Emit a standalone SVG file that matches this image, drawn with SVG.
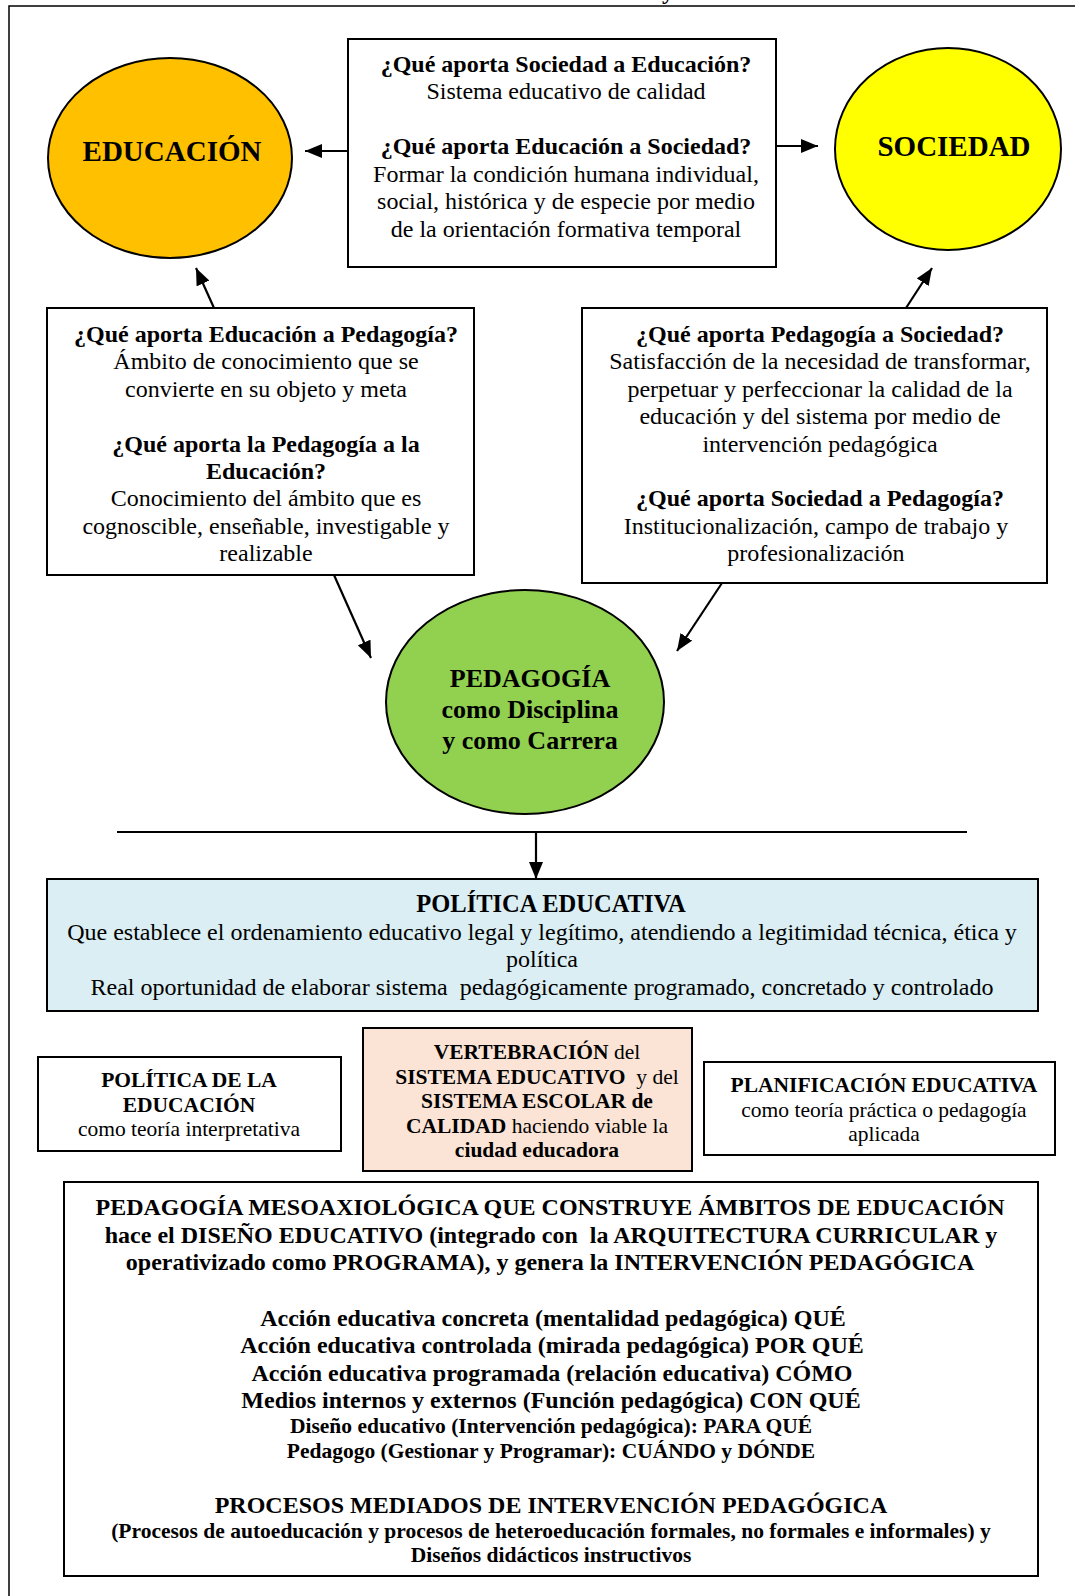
<svg xmlns="http://www.w3.org/2000/svg" width="1075" height="1596" viewBox="0 0 1075 1596">
<defs>
<marker id="ah" markerUnits="userSpaceOnUse" markerWidth="18" markerHeight="14" refX="17" refY="7" orient="auto">
<path d="M0,0 L17,7 L0,14 z" fill="#000"/>
</marker>
<style>
text{font-family:"Liberation Serif","Times New Roman",serif;fill:#000;text-anchor:middle}
.b{font-weight:bold}
.f24{font-size:24px}
.f21{font-size:21.5px}
.box{stroke:#000;stroke-width:2}
.con{stroke:#000;stroke-width:2.2;fill:none}
.tb{font-weight:bold}
</style>
</defs>
<rect width="1075" height="1596" fill="#fff"/>
<path d="M9,1596 V6 H1075" fill="none" stroke="#000" stroke-width="1.5"/>
<text class="b" x="668" y="-1" style="font-size:24px">y</text>

<g id="connectors">
<line class="con" x1="348" y1="151" x2="305" y2="151" marker-end="url(#ah)"/>
<line class="con" x1="777" y1="146" x2="818" y2="146" marker-end="url(#ah)"/>
<line class="con" x1="214" y1="308" x2="196" y2="268" marker-end="url(#ah)"/>
<line class="con" x1="906" y1="308" x2="932" y2="268" marker-end="url(#ah)"/>
<line class="con" x1="334" y1="575" x2="371" y2="658" marker-end="url(#ah)"/>
<line class="con" x1="722" y1="583" x2="677" y2="651" marker-end="url(#ah)"/>
<line class="con" x1="117" y1="832" x2="967" y2="832"/>
<line class="con" x1="536" y1="832" x2="536" y2="879" marker-end="url(#ah)"/>
</g>

<g id="educacion">
<ellipse cx="170" cy="158" rx="122" ry="100" fill="#FFC000" class="box"/>
<text class="b" x="172" y="161" style="font-size:29px">EDUCACIÓN</text>
</g>

<g id="sociedad">
<ellipse cx="948" cy="149" rx="113" ry="101" fill="#FFFF00" class="box"/>
<text class="b" x="954" y="156" style="font-size:29px">SOCIEDAD</text>
</g>

<g id="aportes-soc-edu" class="f24">
<rect x="348" y="39" width="428" height="228" fill="#fff" class="box"/>
<text class="b" x="566" y="72">¿Qué aporta Sociedad a Educación?</text>
<text x="566" y="99">Sistema educativo de calidad</text>
<text class="b" x="566" y="154">¿Qué aporta Educación a Sociedad?</text>
<text x="566" y="181.5">Formar la condición humana individual,</text>
<text x="566" y="209">social, histórica y de especie por medio</text>
<text x="566" y="236.5">de la orientación formativa temporal</text>
</g>

<g id="aportes-edu-ped" class="f24">
<rect x="47" y="308" width="427" height="267" fill="#fff" class="box"/>
<text class="b" x="266" y="342">¿Qué aporta Educación a Pedagogía?</text>
<text x="266" y="369.4">Ámbito de conocimiento que se</text>
<text x="266" y="396.8">convierte en su objeto y meta</text>
<text class="b" x="266" y="451.6">¿Qué aporta la Pedagogía a la</text>
<text class="b" x="266" y="479">Educación?</text>
<text x="266" y="506.4">Conocimiento del ámbito que es</text>
<text x="266" y="533.8">cognoscible, enseñable, investigable y</text>
<text x="266" y="561.2">realizable</text>
</g>

<g id="aportes-ped-soc" class="f24">
<rect x="582" y="308" width="465" height="275" fill="#fff" class="box"/>
<text class="b" x="820" y="342">¿Qué aporta Pedagogía a Sociedad?</text>
<text x="820" y="369.4">Satisfacción de la necesidad de transformar,</text>
<text x="820" y="396.8">perpetuar y perfeccionar la calidad de la</text>
<text x="820" y="424.2">educación y del sistema por medio de</text>
<text x="820" y="451.6">intervención pedagógica</text>
<text class="b" x="820" y="506.4">¿Qué aporta Sociedad a Pedagogía?</text>
<text x="816" y="533.8">Institucionalización, campo de trabajo y</text>
<text x="816" y="561.2">profesionalización</text>
</g>

<g id="pedagogia">
<ellipse cx="525" cy="702" rx="139" ry="112" fill="#92D050" class="box"/>
<text class="b" x="530" y="687" style="font-size:26px">PEDAGOGÍA</text>
<text class="b" x="530" y="718" style="font-size:26px">como Disciplina</text>
<text class="b" x="530" y="749" style="font-size:26px">y como Carrera</text>
</g>

<g id="politica-educativa" class="f24">
<rect x="47" y="879" width="991" height="132" fill="#DAEEF3" class="box"/>
<text class="b" x="551" y="912" style="font-size:24.5px">POLÍTICA EDUCATIVA</text>
<text x="542" y="939.5">Que establece el ordenamiento educativo legal y legítimo, atendiendo a legitimidad técnica, ética y</text>
<text x="542" y="967">política</text>
<text x="542" y="994.5" xml:space="preserve">Real oportunidad de elaborar sistema  pedagógicamente programado, concretado y controlado</text>
</g>

<g id="politica-de-la-educacion" class="f21">
<rect x="38" y="1057" width="303" height="94" fill="#fff" class="box"/>
<text class="b" x="189" y="1087">POLÍTICA DE LA</text>
<text class="b" x="189" y="1111.5">EDUCACIÓN</text>
<text x="189" y="1136">como teoría interpretativa</text>
</g>

<g id="vertebracion" class="f21">
<rect x="363" y="1028" width="329" height="143" fill="#FBE4D5" class="box"/>
<text x="537" y="1059"><tspan class="tb">VERTEBRACIÓN</tspan> del</text>
<text x="537" y="1083.5" xml:space="preserve"><tspan class="tb">SISTEMA EDUCATIVO</tspan>  y del</text>
<text class="b" x="537" y="1108">SISTEMA ESCOLAR de</text>
<text x="537" y="1132.5"><tspan class="tb">CALIDAD</tspan> haciendo viable la</text>
<text class="b" x="537" y="1157">ciudad educadora</text>
</g>

<g id="planificacion" class="f21">
<rect x="704" y="1062" width="351" height="93" fill="#fff" class="box"/>
<text class="b" x="884" y="1092">PLANIFICACIÓN EDUCATIVA</text>
<text x="884" y="1116.5">como teoría práctica o pedagogía</text>
<text x="884" y="1141">aplicada</text>
</g>

<g id="mesoaxiologica" class="b">
<rect x="64" y="1182" width="974" height="394" fill="#fff" class="box"/>
<text class="f24" x="550" y="1215">PEDAGOGÍA MESOAXIOLÓGICA QUE CONSTRUYE ÁMBITOS DE EDUCACIÓN</text>
<text class="f24" x="551" y="1242.5" xml:space="preserve">hace el DISEÑO EDUCATIVO (integrado con  la ARQUITECTURA CURRICULAR y</text>
<text class="f24" x="550" y="1270">operativizado como PROGRAMA), y genera la INTERVENCIÓN PEDAGÓGICA</text>
<text class="f24" x="553" y="1325.5">Acción educativa concreta (mentalidad pedagógica) QUÉ</text>
<text class="f24" x="552" y="1353">Acción educativa controlada (mirada pedagógica) POR QUÉ</text>
<text class="f24" x="552" y="1380.5">Acción educativa programada (relación educativa) CÓMO</text>
<text class="f24" x="551" y="1408">Medios internos y externos (Función pedagógica) CON QUÉ</text>
<text class="f21" x="551" y="1432.5">Diseño educativo (Intervención pedagógica): PARA QUÉ</text>
<text class="f21" x="551" y="1458">Pedagogo (Gestionar y Programar): CUÁNDO y DÓNDE</text>
<text class="f24" x="551" y="1513">PROCESOS MEDIADOS DE INTERVENCIÓN PEDAGÓGICA</text>
<text class="f21" x="551" y="1537.5">(Procesos de autoeducación y procesos de heteroeducación formales, no formales e informales) y</text>
<text class="f21" x="551" y="1562">Diseños didácticos instructivos</text>
</g>
</svg>
